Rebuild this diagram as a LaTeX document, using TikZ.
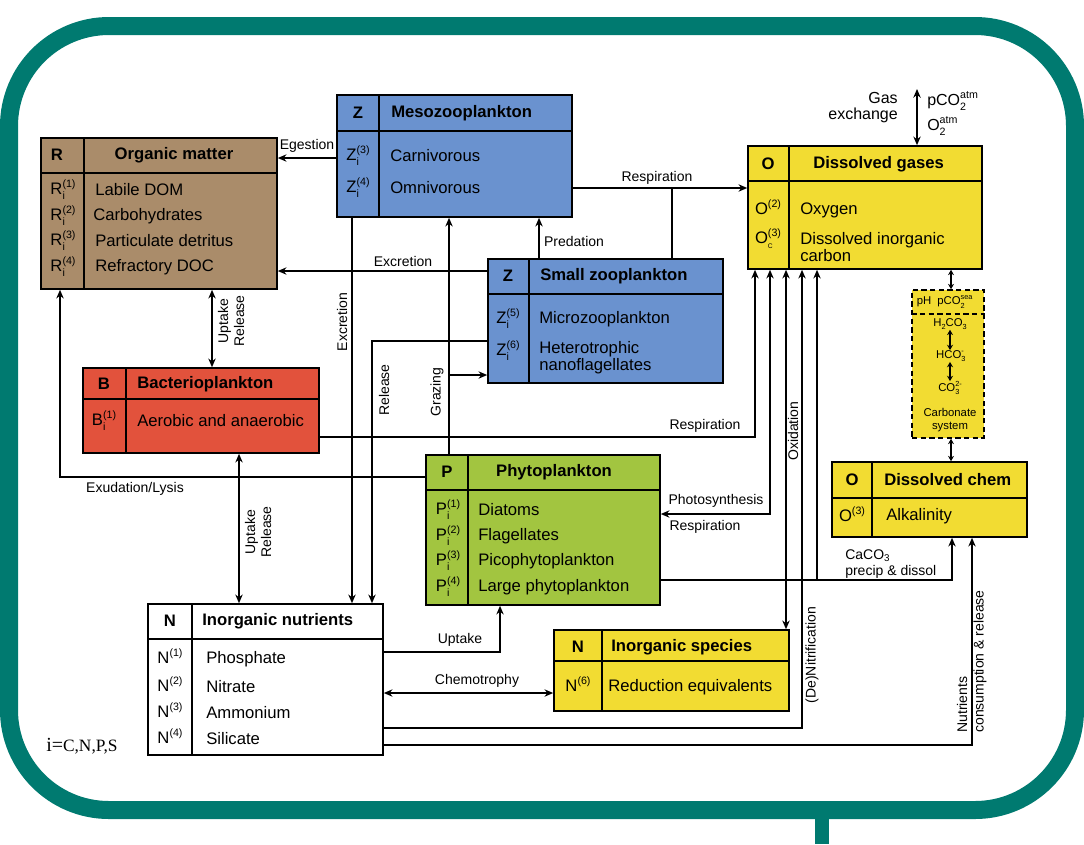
\documentclass[tikz,border=0pt]{standalone}
\usepackage{fontspec}
\setmainfont{Liberation Sans}
\newfontfamily\serfont{Liberation Serif}
\usetikzlibrary{arrows.meta,fit}
\definecolor{frameteal}{RGB}{0,122,112}
\definecolor{cbrown}{RGB}{170,140,106}
\definecolor{cblue}{RGB}{106,146,207}
\definecolor{cred}{RGB}{226,82,60}
\definecolor{cyellow}{RGB}{242,220,50}
\definecolor{cgreen}{RGB}{162,197,64}
\newcommand\idx[3]{#1\rlap{\raisebox{-0.6ex}{\fontsize{8}{8}\selectfont #2}}\raisebox{0.75ex}{\fontsize{8}{8}\selectfont #3}}
\newcommand\sidx[3]{#1\rlap{\raisebox{-0.55ex}{\fontsize{5.5}{5.5}\selectfont #2}}\raisebox{0.8ex}{\fontsize{5.5}{5.5}\selectfont #3}}
\tikzset{
  box/.style={draw=black, line width=1.2pt, inner sep=0pt},
  divline/.style={line width=2pt},
  colline/.style={line width=1.3pt},
  hd/.style={font=\fontsize{12.5}{14}\selectfont\bfseries, inner sep=0pt},
  tx/.style={font=\fontsize{12.5}{13}\selectfont, inner sep=0pt, anchor=west, align=left},
  sym/.style={font=\fontsize{12.5}{14}\selectfont, inner sep=0pt},
  lab/.style={font=\fontsize{10.5}{12}\selectfont, inner sep=0pt, align=center},
  small/.style={font=\fontsize{8.5}{9.5}\selectfont, inner sep=0pt, align=center},
  conn/.style={line width=1.4pt},
  arr/.style={conn, -{Stealth[length=6.5pt,width=5.5pt]}},
  darr/.style={conn, {Stealth[length=6.5pt,width=5.5pt]}-{Stealth[length=6.5pt,width=5.5pt]}},
  sdarr/.style={line width=1.4pt, {Stealth[length=4pt,width=4.5pt]}-{Stealth[length=4pt,width=4.5pt]}},
  frame/.style={line width=13.5pt, draw=frameteal, rounded corners=75pt},
}
\begin{document}
\begin{tikzpicture}[x=0.75pt,y=-0.75pt]
\useasboundingbox (0,0) rectangle (1084,844);
\fill[white] (0,0) rectangle (1084,844);
\draw[frame] (9,26) rectangle (1075,810);
\draw[line width=11pt, frameteal] (822,812) -- (822,844);

% ---------- boxes ----------
\node[box, fill=cbrown, fit={(41,138) (277,289)}] (R) {};
\node[box, fill=cblue, fit={(337,95) (572,217)}] (ZM) {};
\node[box, fill=cblue, fit={(488,259) (723,383)}] (ZS) {};
\node[box, fill=cyellow, fit={(748,146) (982,269)}] (G) {};
\node[box, fill=cyellow, dashed, dash pattern=on 4pt off 2.5pt, fit={(912,290) (984,438)}] (CS) {};
\node[box, fill=cyellow, fit={(832,462) (1027,537)}] (DC) {};
\node[box, fill=cred, fit={(83,368) (319,453)}] (B) {};
\node[box, fill=cgreen, fit={(426,455) (660,605)}] (P) {};
\node[box, fill=white, fit={(148,604) (383,755)}] (N) {};
\node[box, fill=cyellow, fit={(554,630) (789,711)}] (NS) {};

% dividers
\draw[divline] (R.west |- 0,173) -- (R.east |- 0,173);
\draw[colline] (R.north -| 84,0) -- (R.south -| 84,0);
\draw[divline] (ZM.west |- 0,131) -- (ZM.east |- 0,131);
\draw[colline] (ZM.north -| 379,0) -- (ZM.south -| 379,0);
\draw[divline] (ZS.west |- 0,294) -- (ZS.east |- 0,294);
\draw[colline] (ZS.north -| 529,0) -- (ZS.south -| 529,0);
\draw[divline] (G.west |- 0,181) -- (G.east |- 0,181);
\draw[colline] (G.north -| 789,0) -- (G.south -| 789,0);
\draw[line width=1.2pt, dash pattern=on 4pt off 2.5pt] (CS.west |- 0,314) -- (CS.east |- 0,314);
\draw[divline] (DC.west |- 0,498) -- (DC.east |- 0,498);
\draw[colline] (DC.north -| 872,0) -- (DC.south -| 872,0);
\draw[divline] (B.west |- 0,399) -- (B.east |- 0,399);
\draw[colline] (B.north -| 126,0) -- (B.south -| 126,0);
\draw[divline] (P.west |- 0,490) -- (P.east |- 0,490);
\draw[colline] (P.north -| 468,0) -- (P.south -| 468,0);
\draw[divline] (N.west |- 0,639) -- (N.east |- 0,639);
\draw[colline] (N.north -| 192,0) -- (N.south -| 192,0);
\draw[divline] (NS.west |- 0,661) -- (NS.east |- 0,661);
\draw[colline] (NS.north -| 602,0) -- (NS.south -| 602,0);

% ---------- box texts ----------
% Organic matter
\node[hd] (Rk) at (57,155) {R};
\node[hd] (Rn) at (174,155) {Organic matter};
\node[sym] (R1s) at (63,190) {\idx{R}{i}{(1)}};
\node[sym] (R2s) at (63,216) {\idx{R}{i}{(2)}};
\node[sym] (R3s) at (63,241) {\idx{R}{i}{(3)}};
\node[sym] (R4s) at (63,267) {\idx{R}{i}{(4)}};
\node[tx] (R1t) at (95,190) {Labile DOM};
\node[tx] (R2t) at (93,216) {Carbohydrates};
\node[tx] (R3t) at (95,241) {Particulate detritus};
\node[tx] (R4t) at (95,267) {Refractory DOC};
% Mesozooplankton
\node[hd] (ZMk) at (358,113) {Z};
\node[hd, anchor=west] (ZMn) at (391,113) {Mesozooplankton};
\node[sym] (ZM3s) at (358,156) {\idx{Z}{i}{(3)}};
\node[sym] (ZM4s) at (358,188) {\idx{Z}{i}{(4)}};
\node[tx] (ZM3t) at (390,156) {Carnivorous};
\node[tx] (ZM4t) at (390,188) {Omnivorous};
% Small zooplankton
\node[hd] (ZSk) at (508,276) {Z};
\node[hd, anchor=west] (ZSn) at (540,276) {Small zooplankton};
\node[sym] (ZS5s) at (508,319) {\idx{Z}{i}{(5)}};
\node[sym] (ZS6s) at (508,351) {\idx{Z}{i}{(6)}};
\node[tx] (ZS5t) at (539,319) {Microzooplankton};
\node[tx] (ZS6t) at (539,358) {Heterotrophic\\nanoflagellates};
% Dissolved gases
\node[hd] (Gk) at (768,164) {O};
\node[hd, anchor=west] (Gn) at (813,164) {Dissolved gases};
\node[sym] (G2s) at (768,210) {\idx{O}{}{(2)}};
\node[sym] (G3s) at (768,239) {\idx{O}{{\fontsize{5}{5}\selectfont C}}{(3)}};
\node[tx] (G2t) at (800,210) {Oxygen};
\node[tx] (G3t) at (800,247) {Dissolved inorganic\\carbon};
% gas exchange
\coordinate (gasTop) at (917,89);
\draw[darr] (gasTop) -- (G.north -| gasTop);
\node[font=\fontsize{12}{12}\selectfont, inner sep=0pt, align=right, anchor=east] (gasL) at (898,108) {Gas\\exchange};
\node[font=\fontsize{12}{12}\selectfont, inner sep=0pt, anchor=west] (pco2a) at (927,101) {\idx{pCO}{2}{atm}};
\node[font=\fontsize{12}{12}\selectfont, inner sep=0pt, anchor=west] (o2a) at (927,126) {\idx{O}{2}{atm}};
% Carbonate system
\node[small] (pH) at (924,302) {pH};
\node[small, anchor=west] (pco2s) at (937,302) {\sidx{pCO}{2}{sea}};
\node[small] (h2co3) at (950,324) {H\raisebox{-0.5ex}{\fontsize{5.5}{5.5}\selectfont 2}CO\raisebox{-0.5ex}{\fontsize{5.5}{5.5}\selectfont 3}};
\node[small] (hco3) at (950,356) {\sidx{HCO}{3}{-}};
\node[small] (co3) at (950,388) {\sidx{CO}{3}{2-}};
\node[small] (carb) at (950,420) {Carbonate\\system};
\draw[sdarr] (h2co3) -- (hco3);
\draw[sdarr] (hco3) -- (co3);
\draw[sdarr] (G.south -| 951,0) -- (CS.north -| 951,0);
\draw[sdarr] (CS.south -| 951,0) -- (DC.north -| 951,0);
% Dissolved chem
\node[hd] (DCk) at (852,480) {O};
\node[hd, anchor=west] (DCn) at (884,480) {Dissolved chem};
\node[sym] (DC3s) at (852,517) {\idx{O}{}{(3)}};
\node[tx] (DC3t) at (886,516) {Alkalinity};
% Bacterioplankton
\node[hd] (Bk) at (104,384) {B};
\node[hd, anchor=west] (Bn) at (137,384) {Bacterioplankton};
\node[sym] (B1s) at (104,421) {\idx{B}{i}{(1)}};
\node[tx] (B1t) at (137,421) {Aerobic and anaerobic};
% Phytoplankton
\node[hd] (Pk) at (447,472) {P};
\node[hd] (Pn) at (554,472) {Phytoplankton};
\node[sym] (P1s) at (448,510) {\idx{P}{i}{(1)}};
\node[sym] (P2s) at (448,536) {\idx{P}{i}{(2)}};
\node[sym] (P3s) at (448,561) {\idx{P}{i}{(3)}};
\node[sym] (P4s) at (448,587) {\idx{P}{i}{(4)}};
\node[tx] (P1t) at (478,510) {Diatoms};
\node[tx] (P2t) at (478,536) {Flagellates};
\node[tx] (P3t) at (478,561) {Picophytoplankton};
\node[tx] (P4t) at (478,587) {Large phytoplankton};
% Inorganic nutrients
\node[hd] (Nk) at (170,621) {N};
\node[hd, anchor=west] (Nn) at (202,621) {Inorganic nutrients};
\node[sym] (N1s) at (170,659) {\idx{N}{}{(1)}};
\node[sym] (N2s) at (170,687) {\idx{N}{}{(2)}};
\node[sym] (N3s) at (170,713) {\idx{N}{}{(3)}};
\node[sym] (N4s) at (170,739) {\idx{N}{}{(4)}};
\node[tx] (N1t) at (206,659) {Phosphate};
\node[tx] (N2t) at (206,687) {Nitrate};
\node[tx] (N3t) at (206,713) {Ammonium};
\node[tx] (N4t) at (206,739) {Silicate};
% Inorganic species
\node[hd] (NSk) at (578,647) {N};
\node[hd, anchor=west] (NSn) at (611,647) {Inorganic species};
\node[sym] (NS6s) at (578,687) {\idx{N}{}{(6)}};
\node[tx] (NS6t) at (608,687) {Reduction equivalents};
% index note
\node[inner sep=0pt, anchor=west] (inote) at (46,746) {\serfont\fontsize{15}{15}\selectfont i=\fontsize{13}{13}\selectfont C,N,P,S};

% ---------- connectors ----------
% Egestion
\draw[arr] (ZM.west |- 0,158) -- (R.east |- 0,158);
\node[lab] (lEg) at (307,146) {Egestion};
% Excretion horizontal
\draw[arr] (ZS.west |- 0,271) -- (R.east |- 0,271);
\node[lab] (lExH) at (403,261) {Excretion};
% Excretion vertical
\draw[arr] (ZM.south -| 352,0) -- (N.north -| 352,0);
\node[lab, rotate=90] (lExV) at (342,322) {Excretion};
% Release
\draw[arr] (ZS.west |- 0,341) -| (N.north -| 372,0);
\node[lab, rotate=90] (lRel) at (384,390) {Release};
% Grazing
\draw[arr] (P.north -| 449,0) -- (ZM.south -| 449,0);
\coordinate (grazJ) at (449,375);
\draw[arr] (grazJ) -- (ZS.west |- grazJ);
\node[lab, rotate=90] (lGr) at (437,392) {Grazing};
% Predation
\draw[arr] (ZS.north -| 539,0) -- (ZM.south -| 539,0);
\node[lab] (lPred) at (574,241) {Predation};
% Respiration zooplankton
\draw[arr] (ZM.east |- 0,188) -- (G.west |- 0,188);
\coordinate (respJ) at (672,188);
\draw[conn] (ZS.north -| respJ) -- (respJ);
\node[lab] (lRespZ) at (657,178) {Respiration};
% Respiration bacteria
\draw[arr] (B.east |- 0,437) -| (G.south -| 755,0);
\node[lab] (lRespB) at (705,426) {Respiration};
% Photosynthesis / Respiration
\draw[darr] (P.east |- 0,514) -| (G.south -| 770,0);
\node[lab] (lPhot) at (716,501) {Photosynthesis};
\node[lab] (lRespP) at (705,527) {Respiration};
% Oxidation
\draw[darr] (G.south -| 786,0) -- (NS.north -| 786,0);
\node[lab, rotate=90] (lOx) at (793,431) {Oxidation};
% (De)Nitrification
\draw[arr] (N.east |- 0,728) -| (G.south -| 802,0);
\node[lab, rotate=90] (lDen) at (812,655) {(De)Nitrification};
% CaCO3
\draw[arr] (P.east |- 0,580) -| (DC.south -| 952,0);
\coordinate (caJ) at (817,580);
\draw[arr] (caJ) -- (G.south -| caJ);
\node[lab, anchor=west, align=left] (lCa) at (845,564) {CaCO\textsubscript{3}\\precip \& dissol};
% Nutrients consumption & release
\draw[arr] (N.east |- 0,745) -| (DC.south -| 972,0);
\node[lab, rotate=90, anchor=west] (lNut1) at (962,733) {Nutrients};
\node[lab, rotate=90, anchor=west] (lNut2) at (980,733) {consumption \& release};
% Chemotrophy
\draw[darr] (N.east |- 0,693) -- (NS.west |- 0,693);
\node[lab] (lChem) at (477,681) {Chemotrophy};
% Uptake to phytoplankton
\draw[arr] (N.east |- 0,652) -| (P.south -| 500,0);
\node[lab] (lUp) at (460,640) {Uptake};
% Uptake/Release R-B
\draw[darr] (R.south -| 212,0) -- (B.north -| 212,0);
\node[lab, rotate=90] (lUR1) at (231,321) {Uptake\\Release};
% Uptake/Release B-N
\draw[darr] (B.south -| 239,0) -- (N.north -| 239,0);
\node[lab, rotate=90] (lUR2) at (258,532) {Uptake\\Release};
% Exudation/Lysis
\draw[arr] (P.west |- 0,477) -| (R.south -| 60,0);
\node[lab] (lEx) at (135,489) {Exudation/Lysis};
\end{tikzpicture}
\end{document}
